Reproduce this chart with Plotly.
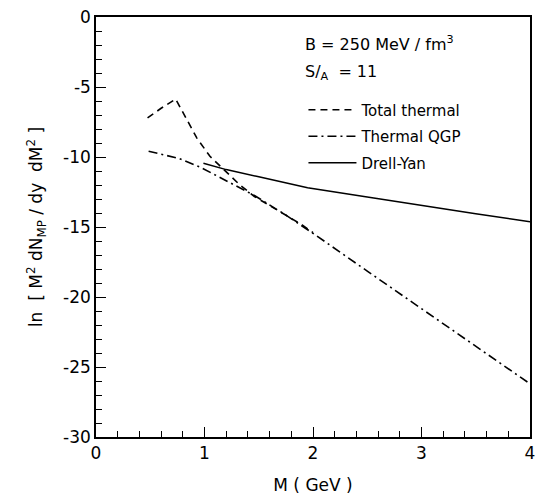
import plotly.graph_objects as go

# Total thermal (dashed)
m_total = [0.475, 0.60, 0.734, 0.83, 0.93, 1.05, 1.19, 1.32, 1.46, 1.60, 1.75, 1.90, 2.00]
y_total = [-7.21, -6.52, -5.86, -7.25, -8.65, -9.95, -10.98, -11.95, -12.82, -13.45, -14.15, -14.85, -15.40]

# Thermal QGP (dash-dot)
m_qgp = [0.485, 0.76, 0.96, 1.26, 1.46, 1.73, 2.0, 2.5, 3.0, 3.5, 4.0]
y_qgp = [-9.59, -10.09, -10.72, -11.95, -12.75, -14.05, -15.45, -18.15, -20.85, -23.5, -26.2]

# Drell-Yan (solid)
m_dy = [0.99, 1.20, 1.49, 1.76, 1.95, 2.5, 2.915, 3.5, 4.0]
y_dy = [-10.45, -10.90, -11.40, -11.86, -12.20, -12.85, -13.36, -14.05, -14.62]

# Tick labels
x_tickvals = [0, 1, 2, 3, 4]
x_ticktext = ["0", "1", "2", "3", "4"]
y_tickvals = [0, -5, -10, -15, -20, -25, -30]
y_ticktext = ["0", "-5", "-10", "-15", "-20", "-25", "-30"]

FONT = "DejaVu Sans"

fig = go.Figure()
fig.add_trace(go.Scatter(x=m_total, y=y_total, mode="lines", name="Total thermal",
                         legendgroup="a",
                         line=dict(color="black", width=1.6, dash="7px,5px")))
fig.add_trace(go.Scatter(x=m_qgp, y=y_qgp, mode="lines", name="Thermal QGP",
                         legendgroup="b",
                         line=dict(color="black", width=1.6, dash="9px,4px,2px,4px")))
fig.add_trace(go.Scatter(x=m_dy, y=y_dy, mode="lines", name="Drell-Yan",
                         legendgroup="c",
                         line=dict(color="black", width=1.5)))

axis_common = dict(showline=True, linecolor="black", linewidth=1.5, mirror=True,
                   showgrid=False, zeroline=False, ticks="inside", tickcolor="black",
                   tickwidth=1.3, ticklabeloverflow="allow", automargin=False,
                   tickfont=dict(family=FONT, size=17, color="black"))

fig.update_xaxes(range=[0, 4], tickmode="array", tickvals=x_tickvals, ticktext=x_ticktext, ticklen=10,
                 minor=dict(dtick=0.2, tick0=0, ticklen=6, ticks="inside", tickcolor="black", tickwidth=1.3),
                 title=dict(text="M ( GeV )", font=dict(family=FONT, size=17, color="black"), standoff=17),
                 **axis_common)
fig.update_yaxes(range=[-30, 0], tickmode="array", tickvals=y_tickvals, ticktext=y_ticktext, ticklen=10,
                 minor=dict(dtick=1, tick0=0, ticklen=6, ticks="inside", tickcolor="black", tickwidth=1.3),
                 title=dict(text="ln  [ M<sup>2</sup> dN<sub>MP</sub> / dy  dM<sup>2</sup> ]",
                            font=dict(family=FONT, size=17, color="black"), standoff=16),
                 **axis_common)

fig.add_annotation(xref="paper", yref="paper", x=0.476, y=0.936, xanchor="left", yanchor="middle",
                   text="B = 250 MeV / fm<sup>3</sup>", showarrow=False,
                   font=dict(family=FONT, size=16, color="black"))
fig.add_annotation(xref="paper", yref="paper", x=0.476, y=0.868, xanchor="left", yanchor="middle",
                   text="S/<sub>A</sub>  = 11", showarrow=False,
                   font=dict(family=FONT, size=16, color="black"))

fig.update_layout(
    width=537, height=497,
    margin=dict(l=96, r=7, t=17, b=60),
    paper_bgcolor="white", plot_bgcolor="white",
    showlegend=True,
    legend=dict(x=0.478, y=0.818, xanchor="left", yanchor="top",
                bgcolor="rgba(0,0,0,0)", borderwidth=0, itemwidth=48,
                tracegroupgap=4,
                font=dict(family=FONT, size=15, color="black")),
    font=dict(family=FONT, color="black"),
)

fig.write_html("out.html")
